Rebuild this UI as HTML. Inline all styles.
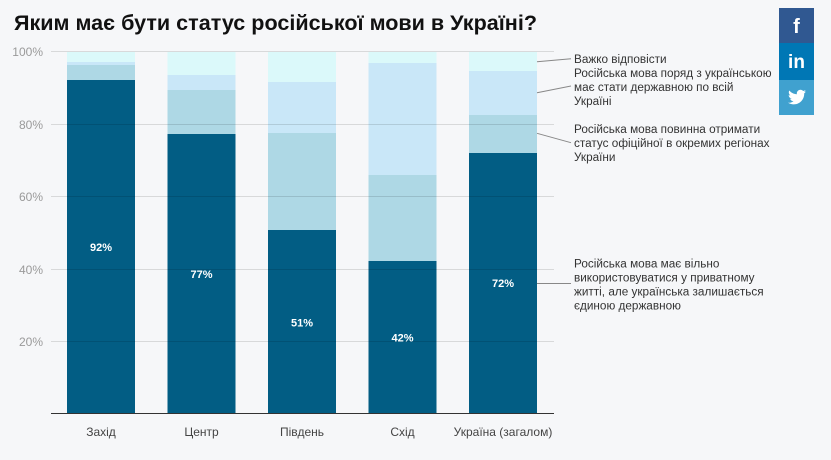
<!DOCTYPE html>
<html><head><meta charset="utf-8"><style>
html,body{margin:0;padding:0;background:#f6f7f9;}
svg{display:block;font-family:"Liberation Sans","DejaVu Sans",sans-serif;}
</style></head><body>
<svg width="831" height="460" viewBox="0 0 831 460" xmlns="http://www.w3.org/2000/svg">
<rect width="831" height="460" fill="#f6f7f9"/>
<text x="14" y="30" font-size="21.5" font-weight="bold" fill="#111" textLength="523" lengthAdjust="spacingAndGlyphs">Яким має бути статус російської мови в Україні?</text>

<!-- bars -->
<g>
<rect x="67" y="52" width="68" height="10" fill="#dbf9fa"/>
<rect x="67" y="62" width="68" height="3" fill="#c9e7f8"/>
<rect x="67" y="65" width="68" height="15" fill="#aed8e5"/>
<rect x="67" y="80" width="68" height="333.5" fill="#025d84"/>

<rect x="167.5" y="52" width="68" height="23" fill="#dbf9fa"/>
<rect x="167.5" y="75" width="68" height="15" fill="#c9e7f8"/>
<rect x="167.5" y="90" width="68" height="44" fill="#aed8e5"/>
<rect x="167.5" y="134" width="68" height="279.5" fill="#025d84"/>

<rect x="268" y="52" width="68" height="30" fill="#dbf9fa"/>
<rect x="268" y="82" width="68" height="51" fill="#c9e7f8"/>
<rect x="268" y="133" width="68" height="97" fill="#aed8e5"/>
<rect x="268" y="230" width="68" height="183.5" fill="#025d84"/>

<rect x="368.5" y="52" width="68" height="11" fill="#dbf9fa"/>
<rect x="368.5" y="63" width="68" height="112" fill="#c9e7f8"/>
<rect x="368.5" y="175" width="68" height="86" fill="#aed8e5"/>
<rect x="368.5" y="261" width="68" height="152.5" fill="#025d84"/>

<rect x="469" y="52" width="68" height="19" fill="#dbf9fa"/>
<rect x="469" y="71" width="68" height="44" fill="#c9e7f8"/>
<rect x="469" y="115" width="68" height="38" fill="#aed8e5"/>
<rect x="469" y="153" width="68" height="260.5" fill="#025d84"/>
</g>

<!-- gridlines -->
<g stroke="rgba(0,0,0,0.12)" stroke-width="1">
<line x1="51" y1="51.5" x2="554" y2="51.5"/>
<line x1="51" y1="124.5" x2="554" y2="124.5"/>
<line x1="51" y1="196.5" x2="554" y2="196.5"/>
<line x1="51" y1="269.5" x2="554" y2="269.5"/>
<line x1="51" y1="341.5" x2="554" y2="341.5"/>
</g>
<line x1="51" y1="413.5" x2="554" y2="413.5" stroke="#333" stroke-width="1"/>

<!-- y labels -->
<g font-size="12" fill="#9a9a9a" text-anchor="end">
<text x="43" y="56">100%</text>
<text x="43" y="129">80%</text>
<text x="43" y="201">60%</text>
<text x="43" y="274">40%</text>
<text x="43" y="346">20%</text>
</g>

<!-- value labels -->
<g font-size="11" font-weight="bold" fill="#fff" text-anchor="middle">
<text x="101" y="251">92%</text>
<text x="201.5" y="278">77%</text>
<text x="302" y="326.5">51%</text>
<text x="402.5" y="341.5">42%</text>
<text x="503" y="287">72%</text>
</g>

<!-- x labels -->
<g font-size="12" fill="#444" text-anchor="middle">
<text x="101" y="436">Захід</text>
<text x="201.5" y="436">Центр</text>
<text x="302" y="436">Південь</text>
<text x="402.5" y="436">Схід</text>
<text x="503" y="436">Україна (загалом)</text>
</g>

<!-- connectors -->
<g stroke="#888" stroke-width="1" fill="none">
<line x1="537" y1="61.7" x2="571" y2="58.7"/>
<line x1="537" y1="92.7" x2="571" y2="86"/>
<line x1="537" y1="133.3" x2="571" y2="142.7"/>
<line x1="537" y1="283.5" x2="571" y2="283.5"/>
</g>

<!-- legend text -->
<g font-size="11.75" fill="#333">
<text x="574" y="63">Важко відповісти</text>
<text x="574" y="77">Російська мова поряд з українською</text>
<text x="574" y="91">має стати державною по всій</text>
<text x="574" y="105">Україні</text>
<text x="574" y="133">Російська мова повинна отримати</text>
<text x="574" y="147">статус офіційної в окремих регіонах</text>
<text x="574" y="161">України</text>
<text x="574" y="267.5">Російська мова має вільно</text>
<text x="574" y="281.5">використовуватися у приватному</text>
<text x="574" y="295.5">житті, але українська залишається</text>
<text x="574" y="309.5">єдиною державною</text>
</g>

<!-- social -->
<rect x="779" y="8" width="35" height="35" fill="#305891"/>
<rect x="779" y="43" width="35" height="37" fill="#0077b5"/>
<rect x="779" y="80" width="35" height="35" fill="#40a1cf"/>
<text x="796.5" y="33" font-size="20" font-weight="bold" fill="#fff" text-anchor="middle">f</text>
<text x="796.5" y="68" font-size="19" font-weight="bold" fill="#fff" text-anchor="middle">in</text>
<path d="M806 91.5c-.7.3-1.4.5-2.1.6.8-.5 1.3-1.2 1.6-2-.7.4-1.5.7-2.3.9-.7-.7-1.6-1.2-2.7-1.2-2 0-3.700 1.7-3.7 3.7 0 .3 0 .6.1.8-3.1-.2-5.8-1.600-7.6-3.8-.3.5-.5 1.2-.5 1.9 0 1.3.7 2.4 1.6 3.1-.6 0-1.2-.2-1.7-.5 0 1.8 1.3 3.3 3 3.6-.3.1-.6.1-1 .1-.2 0-.5 0-.7-.1.5 1.5 1.8 2.5 3.5 2.6-1.3 1-2.9 1.6-4.6 1.6-.3 0-.6 0-.9 0 1.6 1 3.6 1.6 5.7 1.6 6.8 0 10.5-5.6 10.5-10.5v-.5c.7-.5 1.3-1.2 1.800-1.9z" fill="#fff"/>
</svg>
</body></html>
